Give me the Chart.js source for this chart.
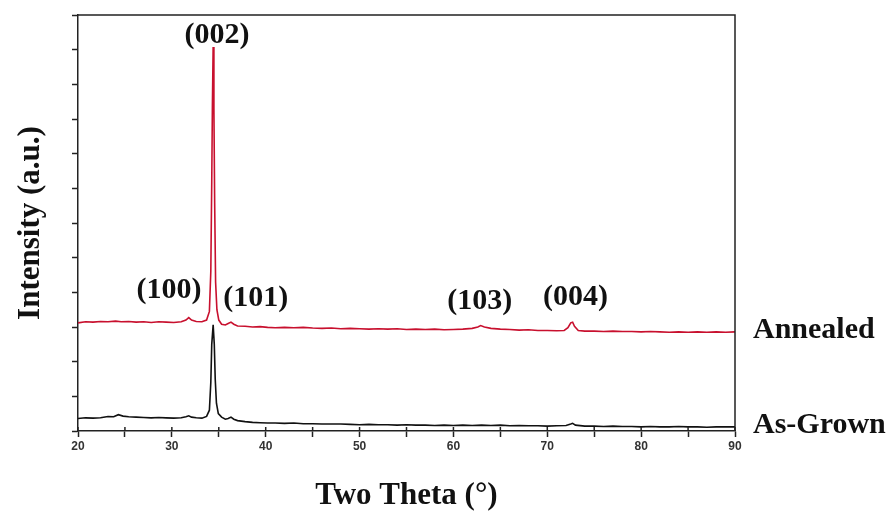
<!DOCTYPE html>
<html>
<head>
<meta charset="utf-8">
<script src="https://cdn.jsdelivr.net/npm/chart.js@4.4.1/dist/chart.umd.min.js"></script>
<style>
  html, body { margin: 0; padding: 0; background: #fff; }
  #xrd { display: block; }
</style>
</head>
<body>
<canvas id="xrd" width="891" height="516"></canvas>
<script>
// Annealed pattern (2θ in degrees, intensity in a.u.)
const annealedTheta = [20, 20.8, 21.6, 22.4, 23.2, 24.0, 24.6, 25.4, 26.2, 27.0, 27.8, 28.6, 29.4, 30.2, 31.0, 31.5, 31.8, 32.1, 32.6, 33.2, 33.7, 34.0, 34.15, 34.25, 34.32, 34.4, 34.48, 34.56, 34.66, 34.8, 35.0, 35.3, 35.7, 36.0, 36.3, 36.6, 37.0, 37.8, 38.6, 39.4, 40.2, 41.0, 42.0, 43.0, 44.0, 45.0, 46.0, 47.0, 48.0, 49.0, 50.0, 51.0, 52.0, 53.0, 54.0, 55.0, 56.0, 57.0, 58.0, 59.0, 60.0, 61.0, 62.0, 62.6, 62.9, 63.3, 64.0, 65.0, 66.0, 67.0, 68.0, 69.0, 70.0, 71.0, 71.8, 72.2, 72.5, 72.7, 72.9, 73.3, 74.0, 75.0, 76.0, 77.0, 78.0, 79.0, 80.0, 81.0, 82.0, 83.0, 84.0, 85.0, 86.0, 87.0, 88.0, 89.0, 90.0];
const annealedIntensity = [3.12, 3.15, 3.14, 3.16, 3.15, 3.17, 3.15, 3.16, 3.14, 3.15, 3.13, 3.15, 3.14, 3.13, 3.15, 3.20, 3.27, 3.20, 3.16, 3.15, 3.20, 3.45, 4.60, 7.20, 9.40, 11.08, 9.30, 6.60, 4.30, 3.50, 3.20, 3.08, 3.06, 3.10, 3.14, 3.08, 3.03, 3.02, 3.00, 3.01, 2.99, 2.98, 2.99, 2.98, 2.99, 2.97, 2.96, 2.97, 2.95, 2.96, 2.95, 2.94, 2.95, 2.94, 2.95, 2.93, 2.94, 2.93, 2.94, 2.92, 2.93, 2.94, 2.96, 3.00, 3.04, 3.00, 2.96, 2.94, 2.93, 2.91, 2.92, 2.90, 2.90, 2.89, 2.90, 2.98, 3.12, 3.14, 3.02, 2.90, 2.88, 2.88, 2.87, 2.88, 2.87, 2.87, 2.86, 2.87, 2.86, 2.85, 2.86, 2.85, 2.86, 2.85, 2.86, 2.85, 2.86];

// As-grown pattern
const asGrownTheta = [20, 20.8, 21.6, 22.4, 23.2, 23.8, 24.3, 24.8, 25.4, 26.2, 27.0, 27.8, 28.6, 29.4, 30.2, 31.0, 31.5, 31.8, 32.1, 32.6, 33.2, 33.7, 34.0, 34.15, 34.25, 34.4, 34.52, 34.62, 34.75, 34.95, 35.3, 35.7, 36.0, 36.3, 36.6, 37.0, 37.8, 38.6, 39.4, 40.2, 41.0, 42.0, 43.0, 44.0, 45.0, 46.0, 47.0, 48.0, 49.0, 50.0, 51.0, 52.0, 53.0, 54.0, 55.0, 56.0, 57.0, 58.0, 59.0, 60.0, 61.0, 62.0, 63.0, 64.0, 65.0, 66.0, 67.0, 68.0, 69.0, 70.0, 71.0, 72.0, 72.5, 72.7, 73.0, 74.0, 75.0, 76.0, 77.0, 78.0, 79.0, 80.0, 81.0, 82.0, 83.0, 84.0, 85.0, 86.0, 87.0, 88.0, 89.0, 90.0];
const asGrownIntensity = [0.36, 0.38, 0.37, 0.38, 0.42, 0.41, 0.47, 0.43, 0.41, 0.40, 0.39, 0.38, 0.39, 0.38, 0.37, 0.38, 0.41, 0.44, 0.40, 0.38, 0.37, 0.42, 0.60, 1.40, 2.50, 3.06, 2.50, 1.50, 0.80, 0.50, 0.40, 0.34, 0.36, 0.40, 0.34, 0.30, 0.27, 0.25, 0.24, 0.23, 0.23, 0.22, 0.23, 0.21, 0.21, 0.20, 0.20, 0.20, 0.19, 0.18, 0.19, 0.18, 0.18, 0.17, 0.18, 0.17, 0.17, 0.16, 0.17, 0.16, 0.17, 0.16, 0.17, 0.16, 0.17, 0.15, 0.16, 0.15, 0.15, 0.14, 0.15, 0.16, 0.20, 0.22, 0.17, 0.14, 0.14, 0.13, 0.14, 0.13, 0.13, 0.12, 0.13, 0.12, 0.12, 0.13, 0.12, 0.12, 0.11, 0.12, 0.12, 0.12];

// Reflection labels and where they sit (2θ, intensity)
const peakNames = ["(002)", "(100)", "(101)", "(103)", "(004)"];
const peakLabelTheta = [34.8, 29.7, 38.95, 62.8, 73.0];
const peakLabelIntensity = [11.42, 4.07, 3.84, 3.75, 3.87];

const seriesNames = ["Annealed", "As-Grown"];

const serifBold = { family: "'Liberation Serif', 'Times New Roman', serif", size: 31, weight: "bold" };

// Frame, inner ticks and text annotations
const decorations = {
    id: "decorations",
    afterDraw(chart) {
        const { ctx, chartArea, scales } = chart;
        ctx.save();
        ctx.strokeStyle = "#222";
        ctx.lineWidth = 1.5;
        // top and right border
        ctx.beginPath();
        ctx.moveTo(chartArea.left, chartArea.top);
        ctx.lineTo(chartArea.right, chartArea.top);
        ctx.lineTo(chartArea.right, chartArea.bottom);
        ctx.stroke();
        // inward part of the x ticks
        scales.x.ticks.forEach(t => {
            const px = scales.x.getPixelForValue(t.value);
            ctx.beginPath();
            ctx.moveTo(px, chartArea.bottom);
            ctx.lineTo(px, chartArea.bottom - 4);
            ctx.stroke();
        });

        ctx.fillStyle = "#111";
        ctx.font = "bold 30px 'Liberation Serif', 'Times New Roman', serif";
        ctx.textAlign = "center";
        ctx.textBaseline = "middle";
        peakNames.forEach((name, i) => {
            ctx.fillText(name,
                scales.x.getPixelForValue(peakLabelTheta[i]),
                scales.y.getPixelForValue(peakLabelIntensity[i]));
        });

        ctx.textAlign = "left";
        chart.data.datasets.forEach((ds, i) => {
            const last = ds.data[ds.data.length - 1];
            ctx.fillText(seriesNames[i], chartArea.right + 18, scales.y.getPixelForValue(last.y) - 2);
        });
        ctx.restore();
    }
};

new Chart("xrd", {
    type: "line",
    data: {
        datasets: [
            {
                label: seriesNames[0],
                data: annealedTheta.map((t, i) => ({ x: t, y: annealedIntensity[i] })),
                borderColor: "#c8102e",
                borderWidth: 1.6,
                pointRadius: 0,
                tension: 0
            },
            {
                label: seriesNames[1],
                data: asGrownTheta.map((t, i) => ({ x: t, y: asGrownIntensity[i] })),
                borderColor: "#111",
                borderWidth: 1.6,
                pointRadius: 0,
                tension: 0
            }
        ]
    },
    options: {
        responsive: false,
        animation: false,
        layout: { padding: { top: 15, right: 156, left: 0, bottom: 0 } },
        plugins: {
            legend: { display: false },
            tooltip: { enabled: false }
        },
        scales: {
            x: {
                type: "linear",
                min: 20,
                max: 90,
                afterFit: scale => { scale.height = 85; },
                ticks: {
                    stepSize: 5,
                    autoSkip: false,
                    maxRotation: 0,
                    padding: 2,
                    color: "#333",
                    font: { family: "'Liberation Sans', Arial, sans-serif", size: 12, weight: "bold" },
                    callback: v => (v % 10 === 0 ? v : "")
                },
                grid: { drawOnChartArea: false, drawTicks: true, tickLength: 6, color: "#222", tickWidth: 1.5 },
                border: { color: "#222", width: 1.5 },
                title: {
                    display: true,
                    text: "Two Theta (°)",
                    color: "#111",
                    font: serifBold,
                    padding: { top: 0, bottom: 1 }
                }
            },
            y: {
                min: 0,
                max: 12,
                afterFit: scale => { scale.width = 78; },
                ticks: { stepSize: 1, callback: () => "" },
                grid: { drawOnChartArea: false, drawTicks: true, tickLength: 6, color: "#222", tickWidth: 1.5 },
                border: { color: "#222", width: 1.5 },
                title: {
                    display: true,
                    text: "Intensity (a.u.)",
                    color: "#111",
                    font: serifBold,
                    padding: { top: 12, bottom: 0 }
                }
            }
        }
    },
    plugins: [decorations]
});
</script>
</body>
</html>
